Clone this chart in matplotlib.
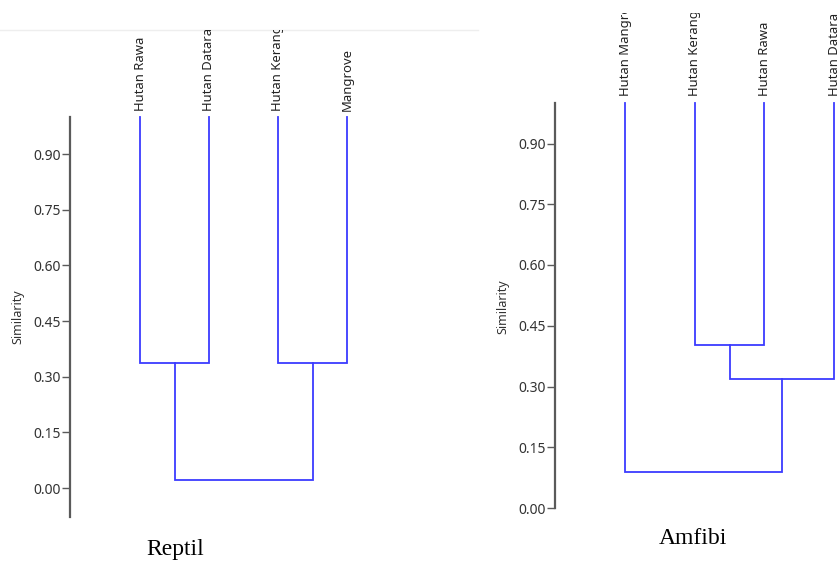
import matplotlib.pyplot as plt
from matplotlib.transforms import Bbox

W, H = 839, 561

# Reptil dendrogram
reptil_labels = ["Hutan Rawa", "Hutan Datara", "Hutan Kerang", "Mangrove"]
# merges: (left child, right child, similarity); children >= 4 are earlier merges
reptil_merges = [(0, 1, 0.337), (2, 3, 0.337), (4, 5, 0.022)]

# Amfibi dendrogram
amfibi_labels = ["Hutan Mangrove", "Hutan Kerang", "Hutan Rawa", "Hutan Datara"]
amfibi_merges = [(1, 2, 0.403), (4, 3, 0.319), (0, 5, 0.089)]

yticks = [0.0, 0.15, 0.30, 0.45, 0.60, 0.75, 0.90]
line_col = '#3b3bff'


def px_axes(fig, x0, y0, x1, y1):
    # pixel box (top-left origin) -> figure axes
    return fig.add_axes([x0 / W, (H - y1) / H, (x1 - x0) / W, (y1 - y0) / H])


def draw_dendro(ax, labels, merges):
    n = len(labels)
    xs = {i: float(i) for i in range(n)}
    hs = {i: 1.0 for i in range(n)}
    for k, (a, b, s) in enumerate(merges):
        ax.plot([xs[a], xs[a], xs[b], xs[b]], [hs[a], s, s, hs[b]],
                color=line_col, lw=1.3, solid_joinstyle='miter', clip_on=False)
        xs[n + k] = (xs[a] + xs[b]) / 2
        hs[n + k] = s


def style_axes(ax, ymin, spacing, lead):
    for side in ['top', 'right', 'bottom']:
        ax.spines[side].set_visible(False)
    ax.spines['left'].set_color('#5a5a5a')
    ax.spines['left'].set_linewidth(1.6)
    ax.set_ylim(ymin, 1.0)
    width_px = ax.get_position().width * W
    lo = -lead / spacing
    ax.set_xlim(lo, lo + width_px / spacing)
    ax.set_xticks([])
    ax.set_yticks(yticks)
    ax.set_yticklabels([f"{v:.2f}" for v in yticks], fontsize=10,
                       color='#333333', family='Noto Sans')
    ax.tick_params(axis='y', length=6, width=1, color='#5a5a5a', pad=0.5)
    ax.patch.set_alpha(0)


def leaf_labels(fig, ax, labels, bottom_px, clip_top):
    for i, lab in enumerate(labels):
        xd = ax.transData.transform((i, 1.0))[0]
        t = fig.text(xd / W, (H - bottom_px) / H, lab, rotation=90, ha='center',
                     va='bottom', fontsize=9.4, color='#222222', family='Noto Sans')
        t.set_clip_box(Bbox([[0, 0], [W, H - clip_top]]))
        t.set_clip_on(True)


fig = plt.figure(figsize=(W / 100, H / 100), dpi=100)

# left panel
ax1 = px_axes(fig, 70, 117, 400, 517)
draw_dendro(ax1, reptil_labels, reptil_merges)
style_axes(ax1, -0.078, 69, 70)
fig.text(18 / W, (H - 317) / H, "Similarity", rotation=90, ha='center', va='center',
         fontsize=9, color='#333333', family='Noto Sans')
leaf_labels(fig, ax1, reptil_labels, 111, 30)

# right panel
ax2 = px_axes(fig, 555, 103, 839, 508)
draw_dendro(ax2, amfibi_labels, amfibi_merges)
style_axes(ax2, 0.0, 69.7, 70)
fig.text(503 / W, (H - 307) / H, "Similarity", rotation=90, ha='center', va='center',
         fontsize=9, color='#333333', family='Noto Sans')
leaf_labels(fig, ax2, amfibi_labels, 96, 13)

# faint border line from the pasted picture
fig.add_artist(plt.Line2D([0, 478 / W], [(H - 30) / H] * 2, color='#eeeeee', lw=1))

fig.text(175 / W, (H - 549) / H, "Reptil", ha='center', va='center',
         fontsize=17, family='Liberation Serif')
fig.text(693 / W, (H - 538) / H, "Amfibi", ha='center', va='center',
         fontsize=17, family='Liberation Serif')

fig.savefig('out.png', dpi=100)
